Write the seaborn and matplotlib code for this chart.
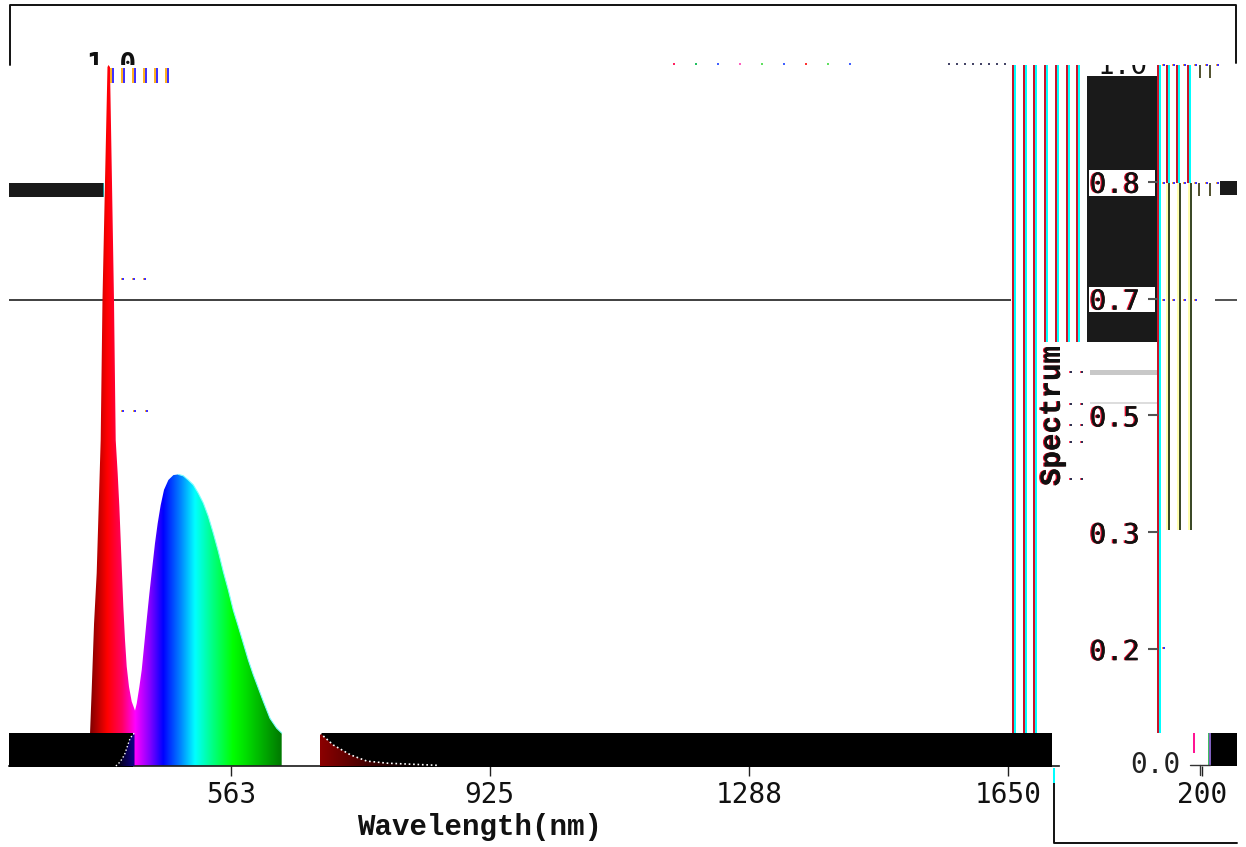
import matplotlib
matplotlib.use('Agg')
import matplotlib.pyplot as plt
import matplotlib.patheffects as pe
from matplotlib.colors import LinearSegmentedColormap
from matplotlib.patches import Rectangle
from matplotlib.transforms import Affine2D
import numpy as np
import seaborn as sns

# spectrum
wave = [365.8, 368.1, 371.4, 375.1, 377.9, 380.7, 383.2, 386.7, 390.2, 391.6, 393.7, 396.5, 399.3, 401.7,
        404.5, 406.8, 408.7, 410.5, 412.4, 414.7, 417.1, 420.3, 424.1, 428.7, 431.1, 434.8, 438.1, 441.3,
        445.0, 448.8, 452.5, 456.7, 460.4, 464.6, 469.3, 475.4, 482.4, 489.3, 496.3, 503.3, 510.3, 517.3,
        524.3, 531.3, 538.3, 545.3, 552.3, 559.3, 566.3, 573.3, 580.3, 587.3, 594.3, 601.3, 608.3, 617.6,
        626.9, 633.9]
spec = [0.047, 0.108, 0.203, 0.275, 0.37, 0.465, 0.665, 0.832, 0.997, 1.0, 0.997, 0.832, 0.665, 0.465,
        0.417, 0.37, 0.322, 0.275, 0.227, 0.18, 0.142, 0.113, 0.092, 0.079, 0.089, 0.113, 0.137, 0.17,
        0.208, 0.246, 0.28, 0.318, 0.346, 0.372, 0.394, 0.408, 0.415, 0.416, 0.414, 0.408, 0.401, 0.389,
        0.375, 0.356, 0.332, 0.306, 0.277, 0.251, 0.222, 0.199, 0.175, 0.151, 0.13, 0.111, 0.092, 0.068,
        0.054, 0.047]
tail_wave = [687.5, 706.0, 730.0, 753.0, 782.0, 851.0]
tail_spec = [0.047, 0.03, 0.016, 0.007, 0.004, 0.001]
rise_wave = [402.0, 408.0, 414.0, 418.0, 422.0, 428.0]
rise_spec = [0.0, 0.006, 0.016, 0.028, 0.04, 0.047]

hue_wave = [365.7, 389.5, 410.0, 428.7, 449.7, 467.9, 491.6, 512.6, 538.0, 565.8, 583.0, 634.0]
hue_cols = ['#800000', '#ff0000', '#ff0060', '#ff00ff', '#8000ff', '#0000ff', '#0080ff', '#00ffff',
            '#00ff80', '#00ff00', '#00e000', '#007800']

x_ticks = [563, 925, 1288, 1650, 1921]
x_labels = ['563', '925', '1288', '1650', '200']
y_ticks = [1 / 6, 2 / 6, 3 / 6, 4 / 6, 5 / 6]
y_labels = ['0.2', '0.3', '0.5', '0.7', '0.8']

sns.set_theme(style='white')
plt.rcParams['font.family'] = ['DejaVu Sans Mono', 'DejaVu Sans']

W, H = 1246, 847
fig = plt.figure(figsize=(W / 100, H / 100), dpi=100)
ax = fig.add_axes([0, 0, 1, 1])
px = Affine2D().scale(1, -1).translate(0, H)  # picture pixels, for the broken bits


def grad(x, y, stops, cols, z):
    cmap = LinearSegmentedColormap.from_list('g', [((s - stops[0]) / (stops[-1] - stops[0]), c)
                                                   for s, c in zip(stops, cols)])
    im = ax.imshow(np.linspace(0, 1, 512)[None, :], extent=(stops[0], stops[-1], 0, max(y)), cmap=cmap,
                   aspect='auto', zorder=z)
    poly = ax.fill_between(x, y, 0, color='none')
    im.set_clip_path(poly.get_paths()[0], ax.transData)


def rect(x0, y0, x1, y1, c, z=1):
    ax.add_patch(Rectangle((x0, y0), x1 - x0, y1 - y0, transform=px, fc=c, ec='none', zorder=z, clip_on=False))


def stripes(xs, y0, y1, c1='#c8142d', c2='#00ffff', z=1.5):
    for x in xs:
        rect(x, y0, x + 2, y1, c1, z)
        rect(x + 2, y0, x + 4, y1, c2, z)


def dots(xs, y, c1='#ffb020', c2='#4030ff'):
    for x in xs:
        rect(x - 1, y - 1, x, y + 1, c1, 6)
        rect(x, y - 1, x + 2, y + 1, c2, 6)


# the spectrum itself
grad(wave, spec, hue_wave, hue_cols, 2)
sns.lineplot(x=wave[37:], y=spec[37:], color='#7fffff', lw=0.8, ax=ax, zorder=2.2, errorbar=None, sort=False)

# frame
ax.plot([10, 10, 1236, 1236], [65, 5, 5, 63], color='#111111', lw=1.4, transform=px, zorder=6)
ax.plot([1054, 1054, 1237], [783, 843, 843], color='#111111', lw=1.4, transform=px, zorder=6)
rect(1053, 768, 1055, 783, '#00ffff', 6)

# dark blocks and lines
rect(9, 183, 103, 197, '#1a1a1a', 3)
rect(103, 183, 104, 197, '#1a9a9a', 3)
rect(1220, 181, 1237, 195, '#1a1a1a', 3)
rect(1087, 75, 1157, 342, '#1a1a1a', 1)
rect(1089, 170, 1155, 196, 'white', 1.2)
rect(1089, 287, 1155, 312, 'white', 1.2)
rect(1087, 65, 1157, 76, 'white', 1.2)
rect(1090, 370, 1157, 375, '#c8c8c8', 1)
rect(1090, 402, 1157, 404, '#dddddd', 1)
rect(9, 299, 1011, 301, '#444444', 1)
rect(1215, 299, 1237, 301, '#555555', 1)

# stripes
stripes([1012, 1023, 1033], 65, 733)
stripes([1044, 1055, 1066, 1076], 65, 342)
stripes([1157], 65, 733)
stripes([1166, 1176, 1187], 65, 183)
stripes([1166, 1177, 1188], 183, 530, c1='#ffffb0', c2='#3c4a28')
rect(1199, 65, 1201, 78, '#555533', 1.5)
rect(1209, 65, 1211, 78, '#555533', 1.5)
rect(1198, 183, 1200, 196, '#555533', 1.5)
rect(1209, 183, 1211, 196, '#555533', 1.5)
rect(1193, 733, 1195, 753, '#ff1493', 1.5)
rect(1208, 733, 1209, 765, '#40c060', 1.5)
rect(1209, 733, 1211, 765, '#8060c0', 1.5)
rect(1211, 733, 1237, 766, '#000000', 3)

# black band on the baseline, the tails cut into it
rect(9, 733, 133, 767, '#000000', 3)
rect(320, 733, 1052, 767, '#000000', 3)
grad(rise_wave, rise_spec, [402.0, 428.0], ['#000000', '#100090'], 4)
grad(tail_wave, tail_spec, [687.5, 800.0, 851.0], ['#8c0000', '#100000', '#000000'], 4)
sns.lineplot(x=rise_wave, y=rise_spec, color='white', lw=1, ls=':', ax=ax, zorder=5, errorbar=None)
sns.lineplot(x=tail_wave, y=tail_spec, color='white', lw=1.2, ls=':', ax=ax, zorder=5, errorbar=None)

# small coloured dots
for x in range(112, 170, 11):
    rect(x - 2, 68, x, 83, '#ffb020', 6)
    rect(x, 68, x + 2, 83, '#4030ff', 6)
for x, c in zip(range(673, 853, 22), ['#ff2060', '#20c060', '#4060ff', '#ff60c0', '#60e060', '#4060ff',
                                      '#ff3030', '#60e060', '#4060ff']):
    rect(x, 63, x + 2, 65, c, 6)
for x in range(948, 1006, 8):
    rect(x, 63, x + 2, 65, '#444466', 6)
for y in [65, 183, 300]:
    dots([1163, 1173, 1184, 1195, 1206, 1217][:(6 if y != 300 else 4)], y)
dots([122, 133, 144], 279)
dots([122, 134, 146], 411)
dots([1163], 648)
for y in [372, 404, 425, 442, 479]:
    dots([1070, 1081], y, c1='#ff4060', c2='#303050')

# axes, scales match the picture
ax.set_xlim(563 - 231 * 1.399, 563 + 1015 * 1.399)
ax.set_ylim(-81 / 701, 1 + 65 / 701)
ax.set_axisbelow(False)
for s in ['top', 'right']:
    ax.spines[s].set_visible(False)
ax.spines['bottom'].set_position(('data', 0))
ax.spines['bottom'].set_bounds(252, 1721)
ax.spines['bottom'].set_color('#222222')
ax.spines['left'].set_position(('data', 1860))
ax.spines['left'].set_visible(False)
ax.set_facecolor('white')

ax.set_xticks(x_ticks, x_labels)
ax.set_yticks(y_ticks, y_labels)
ax.tick_params(axis='x', length=7.5, width=1, pad=3, labelsize=20, color='#222222', labelcolor='#111111', bottom=True)
ax.tick_params(axis='y', length=7.5, width=1.5, pad=5.5, labelsize=20, color='#555555', labelcolor='#111111', left=True)
shadow = [pe.withSimplePatchShadow(offset=(-1, 0), shadow_rgbFace='#e0102a', alpha=1), pe.Normal()]
for lab in ax.get_yticklabels():
    lab.set_path_effects(shadow)

ax.set_xlabel('Wavelength(nm)', family='Liberation Mono', weight='bold', fontsize=21, color='#111111', va='center')
ax.xaxis.set_label_coords(479.5 / W, 1 - 827 / H)
ax.set_ylabel('Spectrum', family='Liberation Mono', weight='bold', fontsize=21, color='#111111', va='center')
ax.yaxis.set_label_coords(1052 / W, 1 - 416 / H)
ax.yaxis.label.set_path_effects(shadow)

# labels that slipped away from their ticks
top = ax.text(137, 65, '1.0', transform=px, ha='right', va='center', fontsize=20, weight='bold', color='#111111',
              zorder=6, clip_on=True)
top.set_clip_path(Rectangle((0, 0), W, 65, transform=px))
second = ax.text(1148, 66, '1.0', transform=px, ha='right', va='center', fontsize=20, color='#111111', zorder=2,
                 clip_on=True)
second.set_clip_path(Rectangle((1087, 65), 70, 11, transform=px))
ax.text(1181, 765, '0.0', transform=px, ha='right', va='center', fontsize=20, color='#222222', zorder=6)
ax.plot([1190, 1210], [765, 765], color='#333333', lw=1, transform=px, zorder=6)
ax.plot([1200, 1200], [765, 775], color='#333333', lw=1, transform=px, zorder=6)

fig.savefig('out.png', dpi=100)
